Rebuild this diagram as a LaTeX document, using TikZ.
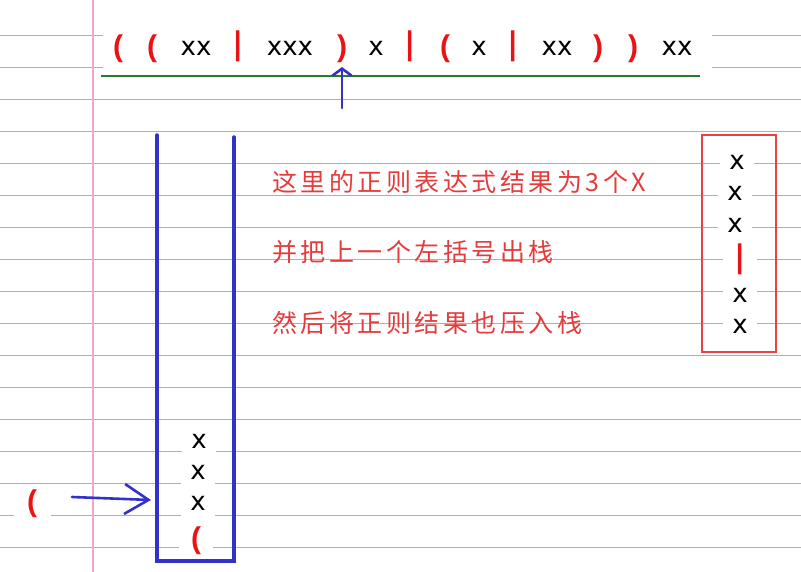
\documentclass[tikz,border=0pt]{standalone}
\usepackage{fontspec}
\setmainfont{DejaVu Sans}
\newfontfamily\parenfont{Liberation Sans}
\newfontfamily\cjk{Noto Sans CJK SC}[LetterSpace=14]
\usetikzlibrary{arrows.meta}

\definecolor{rulecol}{RGB}{150,180,212}
\definecolor{pinkcol}{RGB}{245,165,205}
\definecolor{stackblue}{RGB}{50,50,200}
\definecolor{greencol}{RGB}{40,120,45}
\definecolor{parred}{RGB}{234,18,18}
\definecolor{boxred}{RGB}{232,66,66}
\definecolor{textred}{RGB}{228,60,60}

\begin{document}
\begin{tikzpicture}
  [x=1pt, y=-1pt]
  \tikzstyle{ruled}      = [draw=rulecol, line width=0.9pt];
  \tikzstyle{marginline} = [draw=pinkcol, line width=1.2pt];
  \tikzstyle{token}      = [anchor=base, inner sep=0pt, font=\fontsize{26}{30}\selectfont];
  \tikzstyle{paren}      = [token, text=parred, font=\parenfont\fontsize{30}{34}\selectfont\bfseries];
  \tikzstyle{bar}        = [token, text=parred, font=\fontsize{31}{34}\selectfont\bfseries];
  \tikzstyle{cell}       = [fill=white, inner xsep=0pt, inner ysep=4pt, minimum width=34pt,
                            text height=0.75em, text depth=0.25em];
  \tikzstyle{greenrule}  = [draw=greencol, line width=2pt];
  \tikzstyle{stackwall}  = [draw=stackblue, line width=3.5pt, line cap=round];
  \tikzstyle{bluearrow}  = [draw=stackblue, line width=2.6pt, line cap=round];
  \tikzstyle{resultbox}  = [draw=boxred, line width=2.5pt];
  \tikzstyle{note}       = [anchor=west, inner sep=0pt, text=textred, font=\cjk\fontsize{25}{30}\selectfont];

  \useasboundingbox (0,0) rectangle (801,572);
  \fill[white] (0,0) rectangle (801,572);

  % notebook paper
  \foreach \y in {35,67,...,547}
    \draw[ruled] (0,\y) -- (801,\y);
  \draw[marginline] (93,0) -- (93,572);

  % expression
  \fill[white] (103,27) rectangle (712,71);

  \node[paren] (lp1)  at (118, 57) {(};
  \node[paren] (lp2)  at (152, 57) {(};
  \node[token] (xx1)  at (196, 56) {xx};
  \node[bar]   (bar1) at (238, 55) {|};
  \node[token] (xxx)  at (290, 56) {xxx};
  \node[paren] (rp1)  at (342, 57) {)};
  \node[token] (x1)   at (376, 56) {x};
  \node[bar]   (bar2) at (410, 55) {|};
  \node[paren] (lp3)  at (445, 57) {(};
  \node[token] (x2)   at (479, 56) {x};
  \node[bar]   (bar3) at (513, 55) {|};
  \node[token] (xx2)  at (557, 56) {xx};
  \node[paren] (rp2)  at (598, 57) {)};
  \node[paren] (rp3)  at (633, 57) {)};
  \node[token] (xx3)  at (677, 56) {xx};

  \draw[greenrule] (101,76) -- (700,76);

  \coordinate (upfoot) at (342,108);
  \coordinate (uptip)  at (342,67);
  \draw[bluearrow, -{Straight Barb[length=7pt, width=19pt]}] (upfoot) -- (uptip);

  % stack
  \draw[stackwall] (157,135) -- (157,561) -- (234,561) -- (234,137);

  \node[token, cell] (s1) at (199, 448) {x};
  \node[token, cell] (s2) at (198, 479) {x};
  \node[token, cell] (s3) at (198, 510) {x};
  \node[paren, cell] (s4) at (196, 548) {(};

  \node[paren, cell, inner ysep=7pt, minimum width=37pt] (push) at (32, 511) {(};

  \coordinate (pushfrom) at (72,497);
  \coordinate (pushto)   at (151,500);
  \draw[bluearrow, -{Straight Barb[length=24pt, width=30pt]}] (pushfrom) -- (pushto);

  % notes
  \node[note] (n1) at (272, 182) {这里的正则表达式结果为3个X};
  \node[note] (n2) at (272, 252) {并把上一个左括号出栈};
  \node[note] (n3) at (272, 323) {然后将正则结果也压入栈};

  % result
  \draw[resultbox] (702,135) rectangle (776,352);

  \node[token, cell] (r1) at (737, 170) {x};
  \node[token, cell] (r2) at (735, 201) {x};
  \node[token, cell] (r3) at (735, 233) {x};
  \node[bar, cell]   (r4) at (740, 268) {|};
  \node[token, cell] (r5) at (740, 302) {x};
  \node[token, cell] (r6) at (740, 334) {x};

\end{tikzpicture}
\end{document}
